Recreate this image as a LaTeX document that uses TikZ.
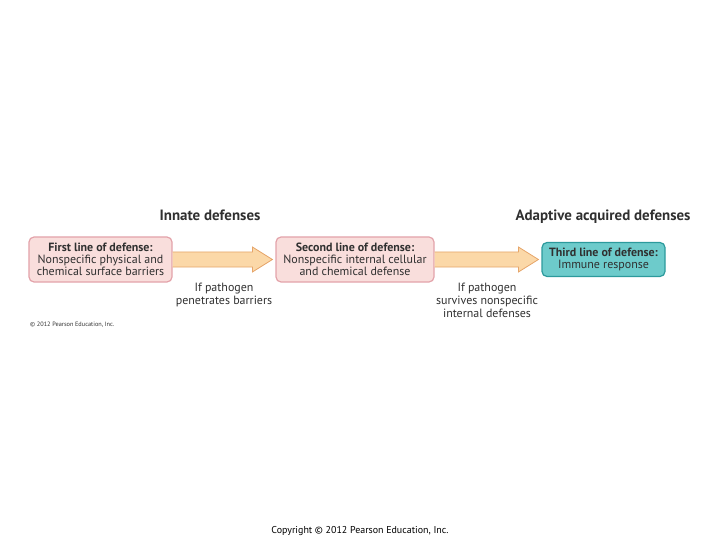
\documentclass[tikz,border=0pt]{standalone}
\usepackage{fontspec}
\setmainfont{PT Sans}
\definecolor{pinkfill}{HTML}{F9DEDC}
\definecolor{pinkdraw}{HTML}{E3A3AA}
\definecolor{arrfill}{HTML}{FBD8A8}
\definecolor{arrdraw}{HTML}{E6A56A}
\definecolor{tealfill}{HTML}{6DCBCB}
\definecolor{tealdraw}{HTML}{2C9A9C}
\definecolor{txt}{HTML}{303030}
\tikzset{
  linebox/.style={draw=pinkdraw, fill=pinkfill, line width=1.2bp, rounded corners=5bp, align=center, font=\fontsize{12}{12}\selectfont, text=txt, inner sep=0pt},
  thirdbox/.style={draw=tealdraw, fill=tealfill, line width=1.2bp, rounded corners=5bp, align=center, font=\fontsize{12}{12}\selectfont, text=txt, inner sep=0pt},
  heading/.style={font=\bfseries\fontsize{15}{17}\selectfont, text=txt, anchor=base},
  cond/.style={align=center, font=\fontsize{12}{13}\selectfont, text=txt},
  bigarrow/.style={draw=arrdraw, fill=arrfill, line width=0.8bp}
}
\begin{document}
\begin{tikzpicture}[x=1bp,y=-1bp]
\useasboundingbox (0,0) rectangle (720,540);
\node[linebox, minimum width=143bp, minimum height=45bp] (b1) at (100.5,259.5)
  {\textbf{First line of defense:}\\Nonspecific physical and\\chemical surface barriers};
\node[linebox, minimum width=158bp, minimum height=45bp] (b2) at (355,259.5)
  {\textbf{Second line of defense:}\\Nonspecific internal cellular\\and chemical defense};
\node[thirdbox, minimum width=123bp, minimum height=34bp] (b3) at (603.5,259.5)
  {\textbf{Third line of defense:}\\Immune response};
% arrows
\coordinate (a1s) at (b1.east);
\coordinate (a1t) at ([xshift=-3bp]b2.west);
\draw[bigarrow] ([yshift=-7.5bp]a1s) -- ([xshift=-20bp,yshift=-7.5bp]a1t) -- ([xshift=-20bp,yshift=-12.5bp]a1t) -- (a1t) -- ([xshift=-20bp,yshift=12.5bp]a1t) -- ([xshift=-20bp,yshift=7.5bp]a1t) -- ([yshift=7.5bp]a1s);
\coordinate (a2s) at (b2.east);
\coordinate (a2t) at ([xshift=-3bp]b3.west);
\draw[bigarrow] ([yshift=-7.5bp]a2s) -- ([xshift=-20bp,yshift=-7.5bp]a2t) -- ([xshift=-20bp,yshift=-12.5bp]a2t) -- (a2t) -- ([xshift=-20bp,yshift=12.5bp]a2t) -- ([xshift=-20bp,yshift=7.5bp]a2t) -- ([yshift=7.5bp]a2s);
\node[heading] (h1) at (210,221) {Innate defenses};
\node[heading] (h2) at (603,221) {Adaptive acquired defenses};
\node[cond, anchor=north] (c1) at (224,280) {If pathogen\\penetrates barriers};
\node[cond, anchor=north] (c2) at (487,280) {If pathogen\\survives nonspecific\\internal defenses};
\node[font=\fontsize{6.3}{7}\selectfont, text=txt, anchor=west, inner sep=0pt] (cp1) at (30,325) {© 2012 Pearson Education, Inc.};
\node[font=\fontsize{10}{11}\selectfont, text=black] (cp2) at (360,531) {Copyright © 2012 Pearson Education, Inc.};
\end{tikzpicture}
\end{document}
